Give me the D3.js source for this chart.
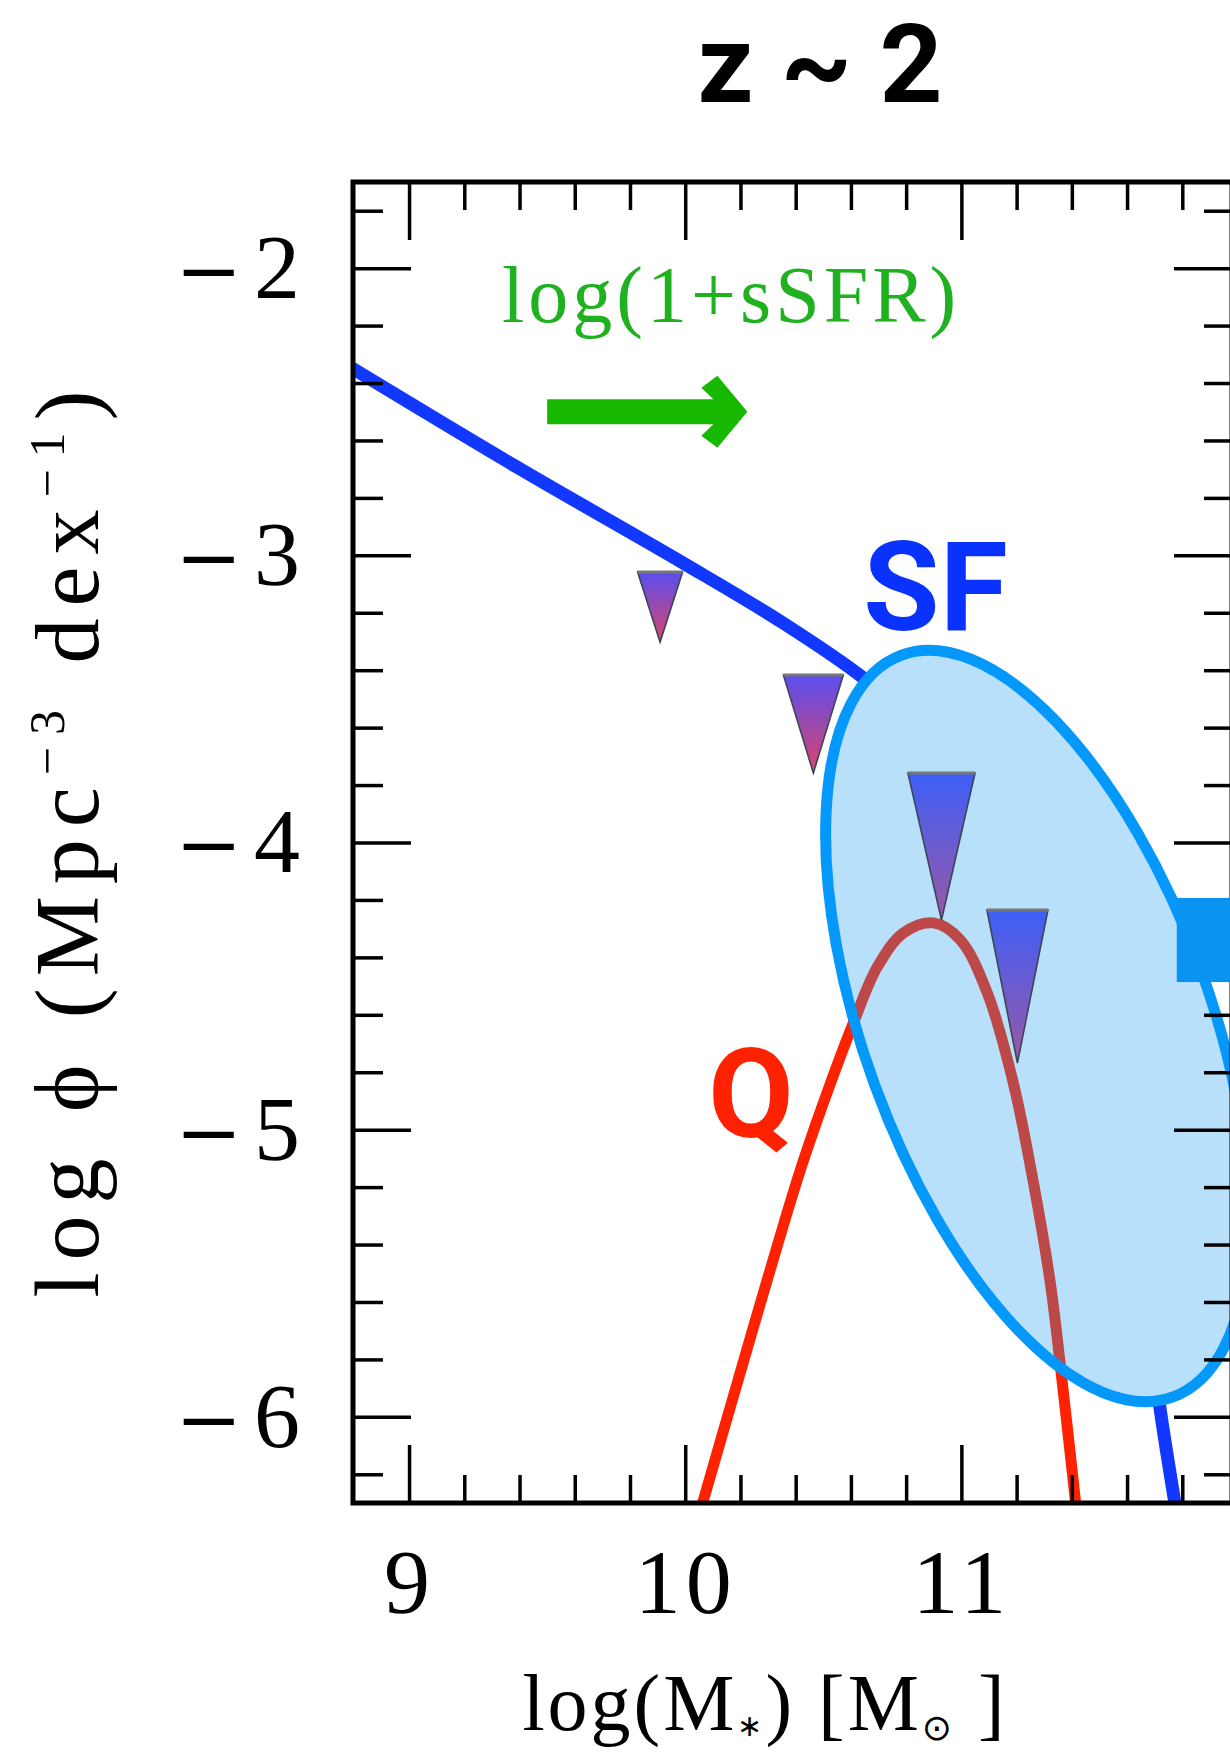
<!DOCTYPE html>
<html>
<head>
<meta charset="utf-8">
<script src="https://cdn.jsdelivr.net/npm/d3@7"></script>
<style>
body { margin: 0; background: #fff; }
</style>
</head>
<body>
<div id="chart"></div>
<script>
// SF (star-forming) mass function
var sfMass = [8.793, 9.391, 9.993, 10.355, 10.645, 10.899, 11.080, 11.178, 11.286, 11.395, 11.493, 11.565, 11.623, 11.674, 11.710, 11.775];
var sfPhi  = [-2.348, -2.693, -3.027, -3.236, -3.427, -3.643, -3.852, -4.026, -4.259, -4.513, -4.816, -5.070, -5.325, -5.593, -5.906, -6.31];

// Q (quiescent) mass function
var qMass = [10.060, 10.174, 10.297, 10.417, 10.514, 10.609, 10.696, 10.790, 10.899, 10.996, 11.094, 11.188, 11.261, 11.322, 11.359, 11.415];
var qPhi  = [-6.31, -5.930, -5.523, -5.140, -4.870, -4.628, -4.433, -4.315, -4.280, -4.339, -4.524, -4.837, -5.185, -5.533, -5.826, -6.31];

// upper limits (triangles): mass, top, tip, width (dex)
var limMass  = [9.909, 10.464, 10.928, 11.203];
var limTop   = [-3.058, -3.417, -3.758, -4.235];
var limTip   = [-3.302, -3.758, -4.270, -4.768];
var limWidth = [0.163, 0.217, 0.243, 0.221];

var xTicks = [9, 10, 11];
var yTicks = [-2, -3, -4, -5, -6];
var xMinor = [9.2, 9.4, 9.6, 9.8, 10.2, 10.4, 10.6, 10.8, 11.2, 11.4, 11.6, 11.8];
var yMinor = [-1.8, -2.2, -2.4, -2.6, -2.8, -3.2, -3.4, -3.6, -3.8, -4.2, -4.4, -4.6, -4.8, -5.2, -5.4, -5.6, -5.8, -6.2];

// ellipse centre (data) and arrow (data)
var ellipseCentre = [11.275, -4.639];
var arrowFrom = 9.50, arrowTo = 10.225, arrowAt = -2.50;

var margin = {top: 182, left: 353},
    width = 879, height = 1321;

var svg = d3.select("#chart").append("svg")
    .attr("width", 1230).attr("height", 1753);

var g = svg.append("g")
    .attr("transform", "translate(" + margin.left + "," + margin.top + ")");

var x = d3.scaleLinear().domain([8.797, 11.98]).range([0, width]);
var y = d3.scaleLinear().domain([-1.70, -6.30]).range([0, height]);

var serif = "'Liberation Serif', 'Times New Roman', serif";
var bold = "Roboto, 'Liberation Sans', sans-serif";

// title
svg.append("text")
    .attr("x", 820).attr("y", 102)
    .attr("text-anchor", "middle")
    .attr("font-family", bold)
    .attr("font-weight", "bold")
    .attr("font-size", 110)
    .text("z ~ 2");

g.append("clipPath").attr("id", "plotclip")
  .append("rect").attr("width", width).attr("height", height);

var plot = g.append("g").attr("clip-path", "url(#plotclip)");

var line = d3.line()
    .x(function(d) { return x(d[0]); })
    .y(function(d) { return y(d[1]); })
    .curve(d3.curveCatmullRom.alpha(0.5));

var sfData = sfMass.map(function(m, i) { return [m, sfPhi[i]]; });
var qData = qMass.map(function(m, i) { return [m, qPhi[i]]; });

// Q curve (bright part)
plot.append("path")
    .attr("d", line(qData))
    .attr("fill", "none").attr("stroke", "#ff2200").attr("stroke-width", 11);

// ellipse
var ex = x(ellipseCentre[0]), ey = y(ellipseCentre[1]);
var ellT = "translate(" + ex + "," + ey + ") rotate(69.9)";

g.append("clipPath").attr("id", "ellclip")
  .append("ellipse").attr("rx", 395).attr("ry", 173).attr("transform", ellT);

g.append("ellipse")
    .attr("rx", 395).attr("ry", 173).attr("transform", ellT)
    .attr("fill", "#b9e0fb");

g.append("g").attr("clip-path", "url(#ellclip)")
  .append("path")
    .attr("d", line(qData))
    .attr("fill", "none").attr("stroke", "#bd4848").attr("stroke-width", 11);

g.append("ellipse")
    .attr("rx", 395).attr("ry", 173).attr("transform", ellT)
    .attr("fill", "none").attr("stroke", "#0598fb").attr("stroke-width", 11);

// axes
function styleAxis(sel) {
  sel.select(".domain").remove();
  sel.selectAll(".tick line").attr("stroke", "#000").attr("stroke-width", 3.5);
  sel.selectAll("text").attr("font-family", serif).attr("font-size", 92).attr("fill", "#000");
}
g.append("g").attr("transform", "translate(0," + height + ")")
  .call(d3.axisBottom(x).tickValues(xTicks).tickSize(-58).tickPadding(45).tickFormat(d3.format("d")))
  .call(styleAxis)
  .selectAll("text").attr("letter-spacing", 5);
g.append("g").attr("transform", "translate(0," + height + ")")
  .call(d3.axisBottom(x).tickValues(xMinor).tickSize(-28).tickFormat(""))
  .call(styleAxis);
g.append("g")
  .call(d3.axisTop(x).tickValues(xTicks).tickSize(-58).tickFormat(""))
  .call(styleAxis);
g.append("g")
  .call(d3.axisTop(x).tickValues(xMinor).tickSize(-28).tickFormat(""))
  .call(styleAxis);

// y tick labels: long minus sign, then digit
var yAxisG = g.append("g")
  .call(d3.axisLeft(y).tickValues(yTicks).tickSize(-58).tickPadding(53).tickFormat(""))
  .call(styleAxis);
yAxisG.selectAll(".tick text").each(function(d) {
  var t = d3.select(this);
  t.append("tspan").attr("font-family", "'DejaVu Serif', serif").attr("font-size", 80).text("\u2212");
  t.append("tspan").attr("dx", 12).text(Math.abs(d));
});

g.append("g")
  .call(d3.axisLeft(y).tickValues(yMinor).tickSize(-30).tickFormat(""))
  .call(styleAxis);
g.append("g").attr("transform", "translate(" + width + ",0)")
  .call(d3.axisRight(y).tickValues(yTicks).tickSize(-58).tickFormat(""))
  .call(styleAxis);
g.append("g").attr("transform", "translate(" + width + ",0)")
  .call(d3.axisRight(y).tickValues(yMinor).tickSize(-28).tickFormat(""))
  .call(styleAxis);

// frame
g.append("rect")
    .attr("width", width).attr("height", height)
    .attr("fill", "none").attr("stroke", "#000").attr("stroke-width", 5);

// SF curve
plot.append("path")
    .attr("d", line(sfData))
    .attr("fill", "none").attr("stroke", "#1238ff").attr("stroke-width", 13);

// triangle gradients
var defs = svg.append("defs");
function grad(id, c0, c1) {
  var lg = defs.append("linearGradient").attr("id", id)
      .attr("x1", 0).attr("y1", 0).attr("x2", 0).attr("y2", 1);
  lg.append("stop").attr("offset", "0%").attr("stop-color", c0);
  lg.append("stop").attr("offset", "100%").attr("stop-color", c1);
}
grad("tripink", "#5a4ef0", "#dc446a");
grad("trivio", "#3d5ff7", "#9a58a6");

var triLine = d3.line().x(function(d) { return x(d[0]); }).y(function(d) { return y(d[1]); });
limMass.forEach(function(m, i) {
  var pts = [[m - limWidth[i] / 2, limTop[i]], [m + limWidth[i] / 2, limTop[i]], [m, limTip[i]]];
  g.append("path")
      .attr("d", triLine(pts) + "Z")
      .attr("fill", i < 2 ? "url(#tripink)" : "url(#trivio)")
      .attr("stroke", "#3c4656").attr("stroke-width", 1.6);
  // grey top edge
  g.append("path")
      .attr("d", triLine(pts.slice(0, 2)))
      .attr("stroke", "#777").attr("stroke-width", 3);
});

// green arrow
var ax0 = x(arrowFrom), ax1 = x(arrowTo), ay = y(arrowAt);
var arrowPts = [[ax0, ay - 12.5], [ax1 - 34, ay - 12.5], [ax1 - 46, ay - 24], [ax1 - 30, ay - 36],
                [ax1, ay], [ax1 - 30, ay + 36], [ax1 - 46, ay + 24], [ax1 - 34, ay + 12.5], [ax0, ay + 12.5]];
g.append("polygon")
    .attr("points", arrowPts.map(function(p) { return p.join(","); }).join(" "))
    .attr("fill", "#17b800");

g.append("text")
    .attr("x", x(9.337)).attr("y", y(-2.188))
    .attr("font-family", serif).attr("font-size", 80)
    .attr("fill", "#1fb11f")
    .attr("letter-spacing", 4)
    .text("log(1+sSFR)");

// labels
g.append("text")
    .attr("x", x(10.645)).attr("y", y(-3.26))
    .attr("font-family", bold).attr("font-weight", "bold").attr("font-size", 124)
    .attr("fill", "#0a32ff").text("SF");
g.append("text")
    .attr("x", x(10.083)).attr("y", y(-5.025))
    .attr("font-family", bold).attr("font-weight", "bold").attr("font-size", 124)
    .attr("fill", "#ff2200").text("Q");

// fragment of the neighbouring panel arrow
g.append("rect")
    .attr("x", x(11.78)).attr("y", y(-4.193))
    .attr("width", x(12.2) - x(11.78)).attr("height", y(-4.486) - y(-4.193))
    .attr("fill", "#0b93f2");

// axis titles
var yl = svg.append("text")
    .attr("transform", "translate(98,838) rotate(-90)")
    .attr("text-anchor", "middle")
    .attr("font-family", serif).attr("font-size", 90)
    .attr("letter-spacing", 12);
yl.append("tspan").text("log \u03d5 (Mpc");
yl.append("tspan").attr("dy", -34).attr("font-size", 50).text("\u22123");
yl.append("tspan").attr("dy", 34).text(" dex");
yl.append("tspan").attr("dy", -34).attr("font-size", 50).text("\u22121");
yl.append("tspan").attr("dy", 34).text(")");

var xl = svg.append("text")
    .attr("x", 765).attr("y", 1730)
    .attr("text-anchor", "middle")
    .attr("font-family", serif).attr("font-size", 80)
    .attr("letter-spacing", 3);
xl.append("tspan").text("log(M");
xl.append("tspan").attr("dy", 6).attr("font-size", 30).text("\u2217");
xl.append("tspan").attr("dy", -6).text(")  [M");
xl.append("tspan").attr("dy", 10).attr("font-size", 36).attr("font-family", "'DejaVu Sans', sans-serif").text("\u2299");
xl.append("tspan").attr("dy", -10).text(" ]");
</script>
</body>
</html>
